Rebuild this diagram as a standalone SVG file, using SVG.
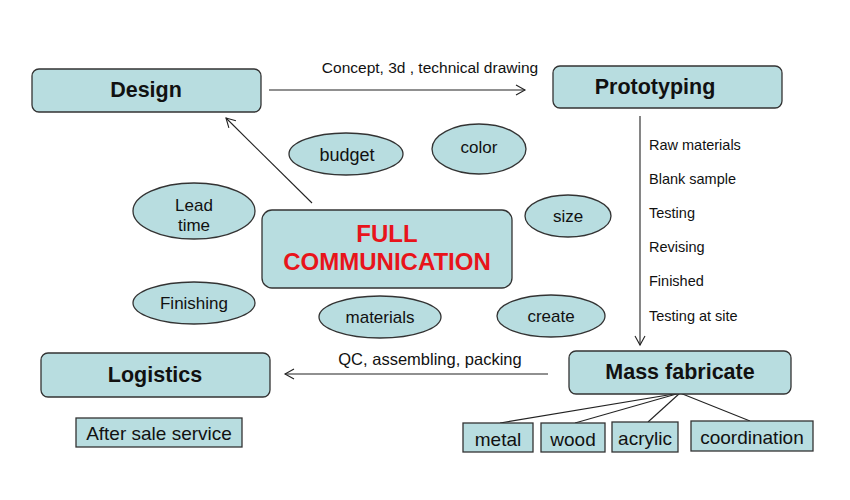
<svg xmlns="http://www.w3.org/2000/svg" width="850" height="500" viewBox="0 0 850 500">
<defs>
<style>
text{font-family:"Liberation Sans",Arial,sans-serif;fill:#111}
.box{fill:#b8dde0;stroke:#333;stroke-width:1.3}
.ell{fill:#b8dde0;stroke:#333;stroke-width:1.3}
.big{font-size:21.5px;font-weight:bold;text-anchor:middle}
.eltx{font-size:17px;text-anchor:middle}
.lbl{font-size:15.5px;text-anchor:middle}
.lst{font-size:14.5px}
.sub{font-size:19px;text-anchor:middle}
.red{fill:#e8141b;font-size:24px;font-weight:bold;text-anchor:middle}
.con{stroke:#222;stroke-width:1.1;fill:none}
</style>
<marker id="ah" markerWidth="12" markerHeight="12" refX="10" refY="6" orient="auto" markerUnits="userSpaceOnUse">
<path d="M1,1 L10,6 L1,11" fill="none" stroke="#222" stroke-width="1.1"/>
</marker>
</defs>
<rect width="850" height="500" fill="#fff"/>
<g id="connectors">
<line class="con" x1="269" y1="90" x2="525" y2="90" marker-end="url(#ah)"/>
<text class="lbl" x="430" y="73">Concept, 3d , technical drawing</text>
<line class="con" x1="640" y1="116" x2="640" y2="345" marker-end="url(#ah)"/>
<line class="con" x1="312" y1="203" x2="226" y2="118" marker-end="url(#ah)"/>
<line class="con" x1="548" y1="374" x2="285" y2="374" marker-end="url(#ah)"/>
<text class="lbl" x="430" y="365" style="font-size:16.5px">QC, assembling, packing</text>
<line class="con" x1="680" y1="393" x2="500" y2="423"/>
<line class="con" x1="680" y1="393" x2="575" y2="423"/>
<line class="con" x1="680" y1="393" x2="648" y2="422"/>
<line class="con" x1="680" y1="393" x2="750" y2="421"/>
</g>
<g id="design"><rect class="box" x="32" y="69" width="229" height="43" rx="7"/><text class="big" x="146" y="97">Design</text></g>
<g id="prototyping"><rect class="box" x="553" y="66" width="229" height="42" rx="7"/><text class="big" x="655" y="94">Prototyping</text></g>
<g id="steps">
<text class="lst" x="649" y="150">Raw materials</text>
<text class="lst" x="649" y="184">Blank sample</text>
<text class="lst" x="649" y="218">Testing</text>
<text class="lst" x="649" y="252">Revising</text>
<text class="lst" x="649" y="286">Finished</text>
<text class="lst" x="649" y="321">Testing at site</text>
</g>
<g id="full-communication"><rect class="box" x="262" y="210" width="250" height="78" rx="10"/><text class="red" x="387" y="242">FULL</text><text class="red" x="387" y="270">COMMUNICATION</text></g>
<g id="budget"><ellipse class="ell" cx="346" cy="154" rx="57" ry="21"/><text class="eltx" x="347" y="161" style="font-size:18px">budget</text></g>
<g id="color"><ellipse class="ell" cx="479" cy="149" rx="47" ry="25"/><text class="eltx" x="479" y="153">color</text></g>
<g id="lead-time"><ellipse class="ell" cx="194" cy="211" rx="61" ry="28"/><text class="eltx" x="194" y="211">Lead</text><text class="eltx" x="194" y="231">time</text></g>
<g id="size"><ellipse class="ell" cx="568" cy="216" rx="43" ry="21"/><text class="eltx" x="568" y="222">size</text></g>
<g id="finishing"><ellipse class="ell" cx="194" cy="303" rx="61" ry="21"/><text class="eltx" x="194" y="309">Finishing</text></g>
<g id="materials"><ellipse class="ell" cx="380" cy="317" rx="61" ry="21"/><text class="eltx" x="380" y="323">materials</text></g>
<g id="create"><ellipse class="ell" cx="551" cy="316" rx="54" ry="21"/><text class="eltx" x="551" y="322">create</text></g>
<g id="logistics"><rect class="box" x="41" y="353" width="229" height="44" rx="7"/><text class="big" x="155" y="382">Logistics</text></g>
<g id="after-sale"><rect class="box" x="76" y="418" width="166" height="29"/><text class="sub" x="159" y="440">After sale service</text></g>
<g id="mass-fabricate"><rect class="box" x="569" y="351" width="222" height="43" rx="7"/><text class="big" x="680" y="379">Mass fabricate</text></g>
<g id="metal"><rect class="box" x="463" y="423" width="70" height="29"/><text class="sub" x="498" y="446">metal</text></g>
<g id="wood"><rect class="box" x="541" y="423" width="64" height="29"/><text class="sub" x="573" y="446">wood</text></g>
<g id="acrylic"><rect class="box" x="612" y="422" width="66" height="30"/><text class="sub" x="645" y="445">acrylic</text></g>
<g id="coordination"><rect class="box" x="691" y="421" width="122" height="30"/><text class="sub" x="752" y="444">coordination</text></g>
</svg>
